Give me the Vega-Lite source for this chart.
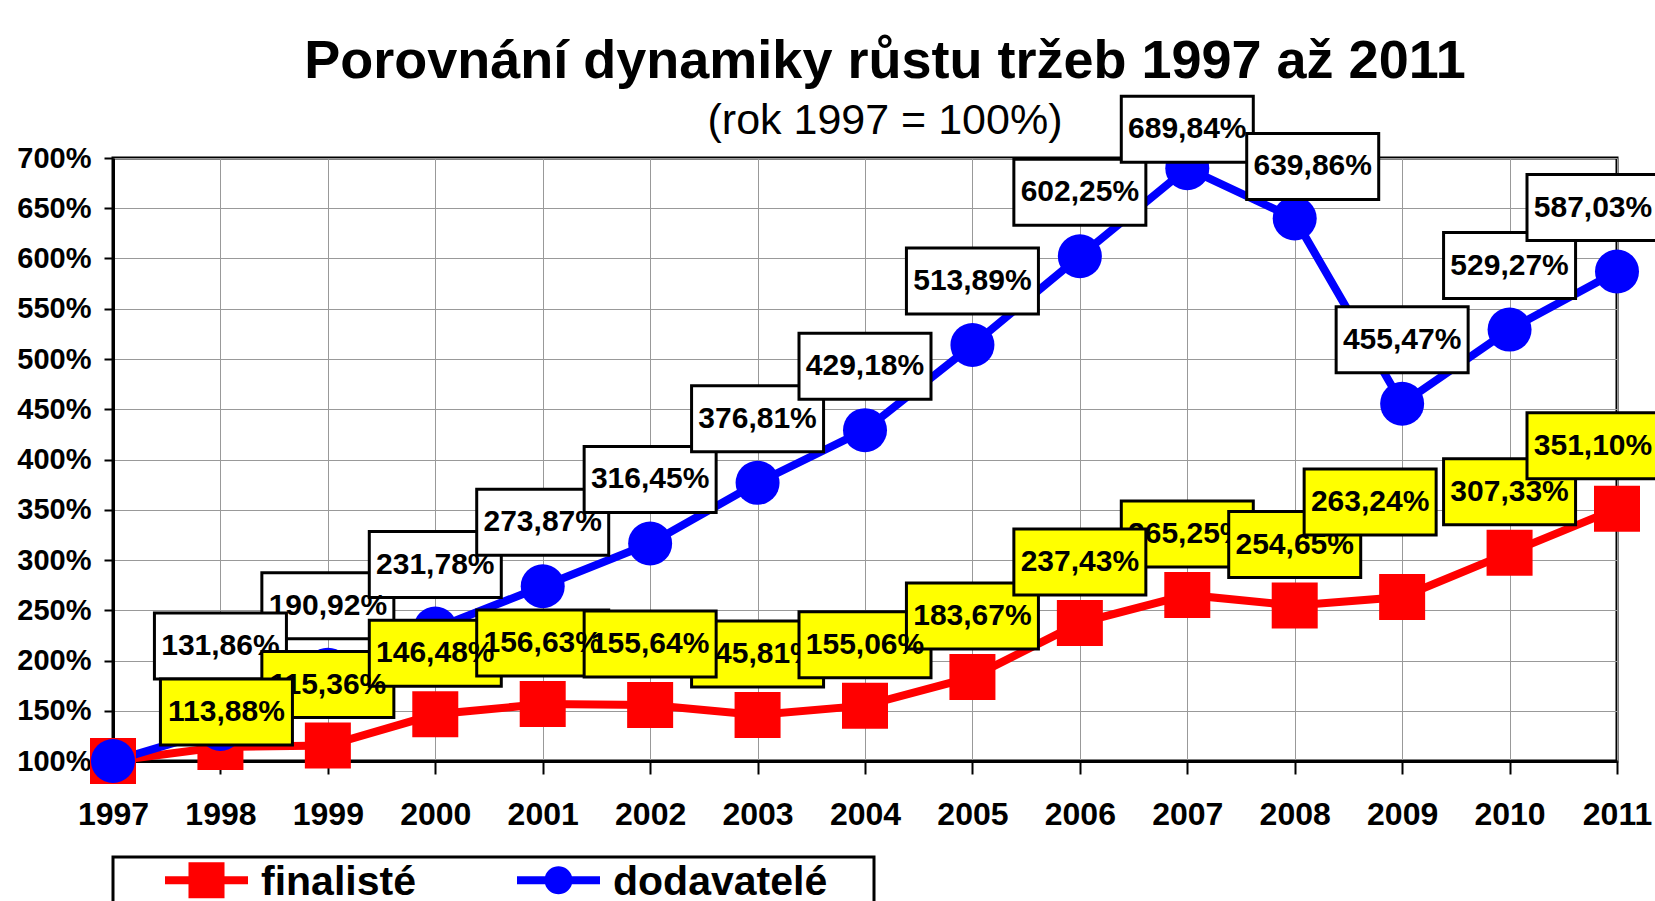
{
  "$schema": "https://vega.github.io/schema/vega-lite/v6.json",
  "autosize": {"type": "none"},
  "width": 1504,
  "height": 603,
  "padding": {"left": 113, "top": 158, "right": 38, "bottom": 140},
  "background": "#FFFFFF",
  "title": {
    "text": "Porovnání dynamiky růstu tržeb 1997 až 2011",
    "subtitle": "(rok 1997 = 100%)",
    "anchor": "middle",
    "dx": 20,
    "offset": -53,
    "subtitlePadding": 11,
    "font": "Liberation Sans",
    "fontSize": 54,
    "fontWeight": "bold",
    "color": "#000000",
    "subtitleFont": "Liberation Sans",
    "subtitleFontSize": 43,
    "subtitleFontWeight": "normal",
    "subtitleColor": "#000000"
  },
  "data": {
    "values": [
      {"year": 1997, "series": "finalisté", "value": 1.0},
      {"year": 1998, "series": "finalisté", "value": 1.1388},
      {"year": 1999, "series": "finalisté", "value": 1.1536},
      {"year": 2000, "series": "finalisté", "value": 1.4648},
      {"year": 2001, "series": "finalisté", "value": 1.5663},
      {"year": 2002, "series": "finalisté", "value": 1.5564},
      {"year": 2003, "series": "finalisté", "value": 1.4581},
      {"year": 2004, "series": "finalisté", "value": 1.5506},
      {"year": 2005, "series": "finalisté", "value": 1.8367},
      {"year": 2006, "series": "finalisté", "value": 2.3743},
      {"year": 2007, "series": "finalisté", "value": 2.6525},
      {"year": 2008, "series": "finalisté", "value": 2.5465},
      {"year": 2009, "series": "finalisté", "value": 2.6324},
      {"year": 2010, "series": "finalisté", "value": 3.0733},
      {"year": 2011, "series": "finalisté", "value": 3.5110},
      {"year": 1997, "series": "dodavatelé", "value": 1.0},
      {"year": 1998, "series": "dodavatelé", "value": 1.3186},
      {"year": 1999, "series": "dodavatelé", "value": 1.9092},
      {"year": 2000, "series": "dodavatelé", "value": 2.3178},
      {"year": 2001, "series": "dodavatelé", "value": 2.7387},
      {"year": 2002, "series": "dodavatelé", "value": 3.1645},
      {"year": 2003, "series": "dodavatelé", "value": 3.7681},
      {"year": 2004, "series": "dodavatelé", "value": 4.2918},
      {"year": 2005, "series": "dodavatelé", "value": 5.1389},
      {"year": 2006, "series": "dodavatelé", "value": 6.0225},
      {"year": 2007, "series": "dodavatelé", "value": 6.8984},
      {"year": 2008, "series": "dodavatelé", "value": 6.3986},
      {"year": 2009, "series": "dodavatelé", "value": 4.5547},
      {"year": 2010, "series": "dodavatelé", "value": 5.2927},
      {"year": 2011, "series": "dodavatelé", "value": 5.8703}
    ]
  },
  "encoding": {
    "x": {
      "field": "year", "type": "quantitative",
      "scale": {"domain": [1997, 2011], "nice": false, "zero": false},
      "axis": {
        "title": null, "format": "d",
        "values": [1997, 1998, 1999, 2000, 2001, 2002, 2003, 2004, 2005, 2006, 2007, 2008, 2009, 2010, 2011],
        "labelFontSize": 32, "tickSize": 13, "labelPadding": 25, "labelFlush": false, "labelOverlap": false
      }
    },
    "y": {
      "field": "value", "type": "quantitative",
      "scale": {"domain": [1, 7], "nice": false, "zero": false},
      "axis": {
        "title": null, "format": ".0%",
        "values": [1, 1.5, 2, 2.5, 3, 3.5, 4, 4.5, 5, 5.5, 6, 6.5, 7],
        "labelFontSize": 29, "tickSize": 9, "labelPadding": 13, "labelFlush": false, "labelOverlap": false
      }
    }
  },
  "layer": [
    {
      "transform": [{"filter": "datum.series == 'finalisté'"}],
      "mark": {"type": "line", "color": "#FF0000", "strokeWidth": 8}
    },
    {
      "transform": [{"filter": "datum.series == 'dodavatelé'"}],
      "mark": {"type": "line", "color": "#0000FF", "strokeWidth": 8}
    },
    {
      "transform": [{"filter": "datum.series == 'finalisté'"}],
      "mark": {"type": "point", "shape": "square", "filled": true, "color": "#FF0000", "size": 2116, "opacity": 1}
    },
    {
      "transform": [{"filter": "datum.series == 'dodavatelé'"}],
      "mark": {"type": "point", "shape": "circle", "filled": true, "color": "#0000FF", "size": 1936, "opacity": 1}
    },
    {
      "mark": {"type": "point", "filled": true, "opacity": 0},
      "encoding": {
        "color": {
          "field": "series", "type": "nominal",
          "scale": {"domain": ["finalisté", "dodavatelé"], "range": ["#FF0000", "#0000FF"]},
          "legend": {"title": "\u00a0", "titleOrient": "right", "titlePadding": 42, "titleFontSize": 10}
        },
        "shape": {
          "field": "series", "type": "nominal",
          "scale": {
            "domain": ["finalisté", "dodavatelé"],
            "range": [
              "M-1,-0.662H-0.434V-1H0.434V-0.662H1V-0.47H0.434V-0.132H-0.434V-0.47H-1Z",
              "M-1,-0.662H-0.323A0.337,0.337 0 0 1 0.323,-0.662H1V-0.47H0.323A0.337,0.337 0 0 1 -0.323,-0.47H-1Z"
            ]
          },
          "legend": {"title": "\u00a0", "titleOrient": "right", "titlePadding": 42, "titleFontSize": 10}
        }
      }
    },
    {
      "transform": [{"filter": "datum.series == 'dodavatelé' && indexof([1997, 1998, 2007, 2008, 2011], datum.year) < 0"}],
      "layer": [
        {"mark": {"type": "point", "shape": "M-1,-0.5H1V0.5H-1Z", "size": 17424, "filled": true, "fill": "#FFFFFF", "stroke": "#000000", "strokeWidth": 3, "opacity": 1, "yOffset": -64}},
        {"mark": {"type": "text", "font": "Liberation Sans", "fontWeight": "bold", "fontSize": 30, "color": "#000000", "align": "center", "baseline": "middle", "yOffset": -64},
         "encoding": {"text": {"field": "value", "type": "quantitative", "format": ".2%"}}}
      ]
    },
    {
      "transform": [{"filter": "datum.series == 'dodavatelé' && datum.year == 1998"}],
      "layer": [
        {"mark": {"type": "point", "shape": "M-1,-0.5H1V0.5H-1Z", "size": 17424, "filled": true, "fill": "#FFFFFF", "stroke": "#000000", "strokeWidth": 3, "opacity": 1, "yOffset": -83}},
        {"mark": {"type": "text", "font": "Liberation Sans", "fontWeight": "bold", "fontSize": 30, "color": "#000000", "align": "center", "baseline": "middle", "yOffset": -83},
         "encoding": {"text": {"field": "value", "type": "quantitative", "format": ".2%"}}}
      ]
    },
    {
      "transform": [{"filter": "datum.series == 'dodavatelé' && datum.year == 2007"}],
      "layer": [
        {"mark": {"type": "point", "shape": "M-1,-0.5H1V0.5H-1Z", "size": 17424, "filled": true, "fill": "#FFFFFF", "stroke": "#000000", "strokeWidth": 3, "opacity": 1, "yOffset": -39}},
        {"mark": {"type": "text", "font": "Liberation Sans", "fontWeight": "bold", "fontSize": 30, "color": "#000000", "align": "center", "baseline": "middle", "yOffset": -39},
         "encoding": {"text": {"field": "value", "type": "quantitative", "format": ".2%"}}}
      ]
    },
    {
      "transform": [{"filter": "datum.series == 'dodavatelé' && datum.year == 2008"}],
      "layer": [
        {"mark": {"type": "point", "shape": "M-1,-0.5H1V0.5H-1Z", "size": 17424, "filled": true, "fill": "#FFFFFF", "stroke": "#000000", "strokeWidth": 3, "opacity": 1, "yOffset": -52, "xOffset": 18}},
        {"mark": {"type": "text", "font": "Liberation Sans", "fontWeight": "bold", "fontSize": 30, "color": "#000000", "align": "center", "baseline": "middle", "yOffset": -52, "xOffset": 18},
         "encoding": {"text": {"field": "value", "type": "quantitative", "format": ".2%"}}}
      ]
    },
    {
      "transform": [{"filter": "datum.series == 'dodavatelé' && datum.year == 2011"}],
      "layer": [
        {"mark": {"type": "point", "shape": "M-1,-0.5H1V0.5H-1Z", "size": 17424, "filled": true, "fill": "#FFFFFF", "stroke": "#000000", "strokeWidth": 3, "opacity": 1, "yOffset": -64, "xOffset": -24}},
        {"mark": {"type": "text", "font": "Liberation Sans", "fontWeight": "bold", "fontSize": 30, "color": "#000000", "align": "center", "baseline": "middle", "yOffset": -64, "xOffset": -24},
         "encoding": {"text": {"field": "value", "type": "quantitative", "format": ".2%"}}}
      ]
    },
    {
      "transform": [{"filter": "datum.series == 'finalisté' && (datum.year == 2003 || datum.year == 2007)"}],
      "layer": [
        {"mark": {"type": "point", "shape": "M-1,-0.5H1V0.5H-1Z", "size": 17424, "filled": true, "fill": "#FFFF00", "stroke": "#000000", "strokeWidth": 3, "opacity": 1, "yOffset": -61}},
        {"mark": {"type": "text", "font": "Liberation Sans", "fontWeight": "bold", "fontSize": 30, "color": "#000000", "align": "center", "baseline": "middle", "yOffset": -61},
         "encoding": {"text": {"field": "value", "type": "quantitative", "format": ".2%"}}}
      ]
    },
    {
      "transform": [{"filter": "datum.series == 'finalisté' && indexof([1997, 1998, 2003, 2007, 2009, 2011], datum.year) < 0"}],
      "layer": [
        {"mark": {"type": "point", "shape": "M-1,-0.5H1V0.5H-1Z", "size": 17424, "filled": true, "fill": "#FFFF00", "stroke": "#000000", "strokeWidth": 3, "opacity": 1, "yOffset": -61}},
        {"mark": {"type": "text", "font": "Liberation Sans", "fontWeight": "bold", "fontSize": 30, "color": "#000000", "align": "center", "baseline": "middle", "yOffset": -61},
         "encoding": {"text": {"field": "value", "type": "quantitative", "format": ".2%"}}}
      ]
    },
    {
      "transform": [{"filter": "datum.series == 'finalisté' && datum.year == 1998"}],
      "layer": [
        {"mark": {"type": "point", "shape": "M-1,-0.5H1V0.5H-1Z", "size": 17424, "filled": true, "fill": "#FFFF00", "stroke": "#000000", "strokeWidth": 3, "opacity": 1, "yOffset": -35, "xOffset": 6}},
        {"mark": {"type": "text", "font": "Liberation Sans", "fontWeight": "bold", "fontSize": 30, "color": "#000000", "align": "center", "baseline": "middle", "yOffset": -35, "xOffset": 6},
         "encoding": {"text": {"field": "value", "type": "quantitative", "format": ".2%"}}}
      ]
    },
    {
      "transform": [{"filter": "datum.series == 'finalisté' && datum.year == 2009"}],
      "layer": [
        {"mark": {"type": "point", "shape": "M-1,-0.5H1V0.5H-1Z", "size": 17424, "filled": true, "fill": "#FFFF00", "stroke": "#000000", "strokeWidth": 3, "opacity": 1, "yOffset": -95, "xOffset": -32}},
        {"mark": {"type": "text", "font": "Liberation Sans", "fontWeight": "bold", "fontSize": 30, "color": "#000000", "align": "center", "baseline": "middle", "yOffset": -95, "xOffset": -32},
         "encoding": {"text": {"field": "value", "type": "quantitative", "format": ".2%"}}}
      ]
    },
    {
      "transform": [{"filter": "datum.series == 'finalisté' && datum.year == 2011"}],
      "layer": [
        {"mark": {"type": "point", "shape": "M-1,-0.5H1V0.5H-1Z", "size": 17424, "filled": true, "fill": "#FFFF00", "stroke": "#000000", "strokeWidth": 3, "opacity": 1, "yOffset": -63, "xOffset": -24}},
        {"mark": {"type": "text", "font": "Liberation Sans", "fontWeight": "bold", "fontSize": 30, "color": "#000000", "align": "center", "baseline": "middle", "yOffset": -63, "xOffset": -24},
         "encoding": {"text": {"field": "value", "type": "quantitative", "format": ".2%"}}}
      ]
    }
  ],
  "config": {
    "locale": {
      "number": {"decimal": ",", "thousands": " ", "grouping": [3], "currency": ["", " Kč"], "percent": "%"}
    },
    "font": "Liberation Sans",
    "view": {"stroke": "#000000", "strokeWidth": 3},
    "axis": {
      "labelFont": "Liberation Sans",
      "labelFontWeight": "bold",
      "labelColor": "#000000",
      "domainColor": "#000000",
      "domainWidth": 3,
      "tickColor": "#000000",
      "tickWidth": 2,
      "grid": true,
      "gridColor": "#999999",
      "gridWidth": 1
    },
    "legend": {
      "orient": "bottom",
      "direction": "horizontal",
      "symbolSize": 6889,
      "symbolStrokeWidth": 0,
      "symbolOpacity": 1,
      "labelFont": "Liberation Sans",
      "labelFontSize": 41,
      "labelFontWeight": "bold",
      "labelColor": "#000000",
      "labelBaseline": "bottom",
      "labelLimit": 0,
      "labelOffset": 13,
      "symbolOffset": 47,
      "columnPadding": 54,
      "padding": 5,
      "strokeColor": "#000000",
      "strokeWidth": 3,
      "offset": 27
    }
  }
}
